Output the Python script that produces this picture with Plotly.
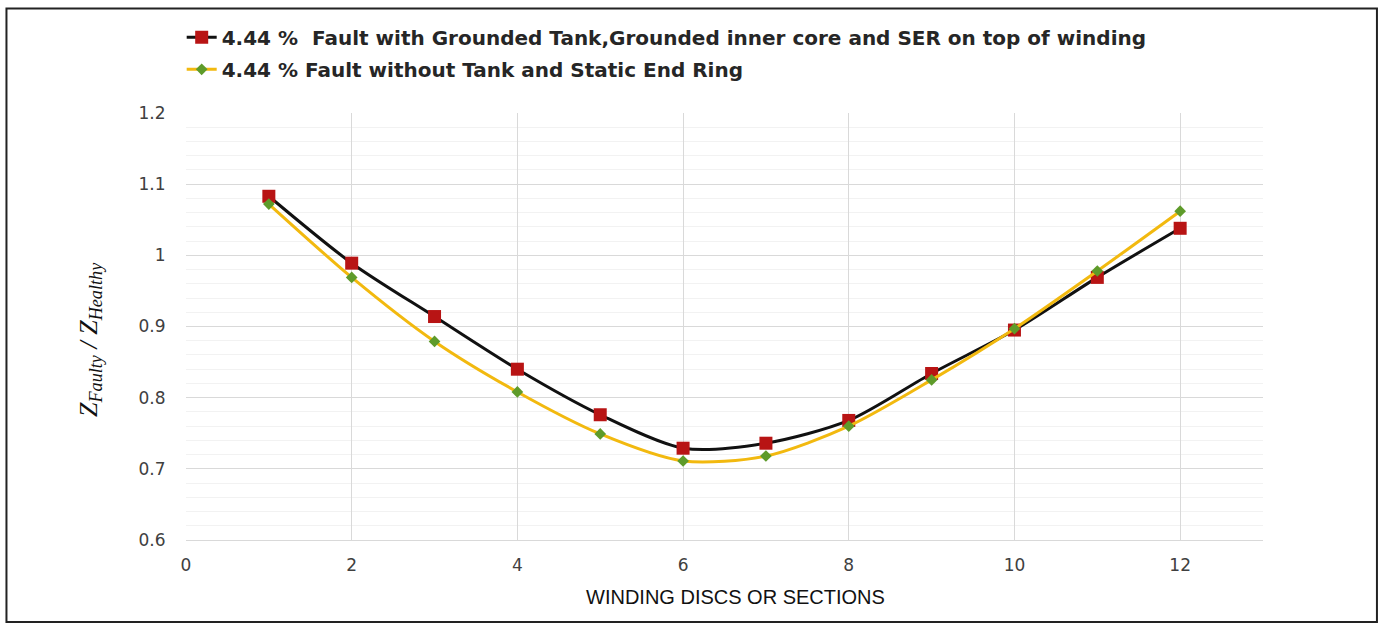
import plotly.graph_objects as go

discs = [1, 2, 3, 4, 5, 6, 7, 8, 9, 10, 11, 12]
grounded_tank = [1.083, 0.989, 0.914, 0.840, 0.776, 0.729, 0.736, 0.768, 0.834, 0.895, 0.969, 1.038]
without_tank = [1.072, 0.969, 0.879, 0.808, 0.749, 0.711, 0.718, 0.760, 0.825, 0.897, 0.978, 1.062]

name1 = "4.44 %  Fault with Grounded Tank,Grounded inner core and SER on top of winding"
name2 = "4.44 % Fault without Tank and Static End Ring"
x_ticks = [0, 2, 4, 6, 8, 10, 12]
y_ticks = [0.6, 0.7, 0.8, 0.9, 1, 1.1, 1.2]
y_tick_text = ["0.6", "0.7", "0.8", "0.9", "1", "1.1", "1.2"]

fig = go.Figure()
fig.add_trace(go.Scatter(
    x=discs, y=grounded_tank, name=name1, mode="lines+markers", legendgroup="g1",
    line=dict(color="#111111", width=3, shape="spline", smoothing=0.8),
    marker=dict(symbol="square", size=13, color="#B81414"),
))
fig.add_trace(go.Scatter(
    x=discs, y=without_tank, name=name2, mode="lines+markers", legendgroup="g2",
    line=dict(color="#F2B90F", width=3, shape="spline", smoothing=0.8),
    marker=dict(symbol="diamond", size=9, color="#5E9B2A"),
))

tick_font = dict(family="DejaVu Sans, sans-serif", size=17, color="#404040")

fig.update_layout(
    width=1383, height=627,
    margin=dict(l=186, r=120, t=113, b=87),
    paper_bgcolor="white", plot_bgcolor="white",
    font=dict(family="Liberation Sans, Arial, sans-serif", color="#404040"),
    showlegend=True,
    legend=dict(
        x=-0.004, y=1.223, xanchor="left", yanchor="top",
        font=dict(size=20, color="#262626", family="DejaVu Sans, sans-serif", weight="bold"),
        bgcolor="rgba(0,0,0,0)", itemwidth=30,
        traceorder="grouped", tracegroupgap=3,
    ),
    xaxis=dict(
        range=[0, 13], tickvals=x_ticks, showgrid=True, gridcolor="#d9d9d9", gridwidth=1,
        zeroline=False, showline=True, linecolor="#d9d9d9", linewidth=1,
        ticks="outside", ticklen=10, tickcolor="rgba(0,0,0,0)",
        tickfont=tick_font,
    ),
    yaxis=dict(
        range=[0.6, 1.2], tickvals=y_ticks, ticktext=y_tick_text, showgrid=True,
        gridcolor="#d9d9d9", gridwidth=1, zeroline=False, showline=False,
        ticks="outside", ticklen=16, tickcolor="rgba(0,0,0,0)",
        tickfont=tick_font,
        minor=dict(dtick=0.02, showgrid=True, gridcolor="#f2f2f2", gridwidth=1),
    ),
    shapes=[dict(
        type="rect", xref="paper", yref="paper",
        x0=-0.1667, x1=1.1058, y0=-0.192, y1=1.2447,
        line=dict(color="#222222", width=2), fillcolor="rgba(0,0,0,0)", layer="above",
    )],
    annotations=[
        dict(
            text="<i>Z<sub>Faulty</sub> / Z<sub>Healthy</sub></i>",
            xref="paper", yref="paper", x=(90 - 186) / 1077, y=(540 - 340) / 427,
            xanchor="center", yanchor="middle", textangle=-90, showarrow=False,
            font=dict(family="Liberation Serif, Times New Roman, serif", size=26, color="#111111"),
        ),
        dict(
            text="WINDING DISCS OR SECTIONS",
            xref="paper", yref="paper", x=(735 - 186) / 1077, y=(540 - 597) / 427,
            xanchor="center", yanchor="middle", showarrow=False,
            font=dict(family="Liberation Sans, Arial, sans-serif", size=20, color="#111111"),
        ),
    ],
)

fig.write_html(
    "out.html",
    config={"displayModeBar": False},
    post_script="document.body.style.margin='0';document.body.style.overflow='hidden';",
)
